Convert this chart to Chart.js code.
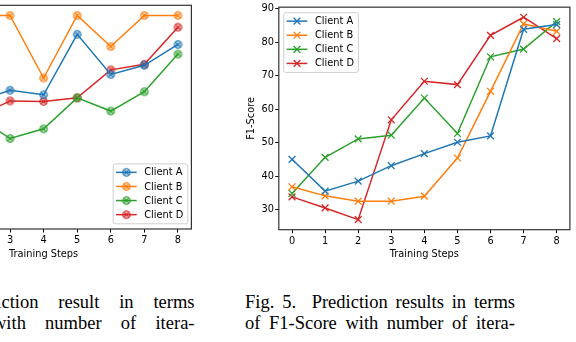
<!DOCTYPE html>
<html>
<head>
<meta charset="utf-8">
<script src="https://cdn.jsdelivr.net/npm/chart.js@4.4.0/dist/chart.umd.min.js"></script>
<style>
html, body { margin: 0; padding: 0; background: #fff; }
body { width: 576px; height: 342px; position: relative; overflow: hidden; }
canvas { position: absolute; top: 0; }
#accChart { left: -160px; }
#f1Chart { left: 240px; }
.cap { position: absolute; font-family: "Liberation Serif", "Times New Roman", serif; font-size: 18.5px; line-height: 20px; color: #000; white-space: nowrap; }
.just { width: 270px; white-space: normal; text-align: justify; text-align-last: justify; }
.rgt { right: 381.5px; text-align: right; }
</style>
</head>
<body>
<canvas id="accChart" width="360" height="270"></canvas>
<canvas id="f1Chart" width="336" height="270"></canvas>

<div class="cap rgt" style="top:292px; word-spacing:15.2px;">Fig. 4.&nbsp; Prediction result in terms</div>
<div class="cap rgt" style="top:313px; word-spacing:14.6px;">of Accuracy with number of itera-</div>
<div class="cap just" style="left:245px; top:292px;">Fig. 5.&nbsp; Prediction results in terms</div>
<div class="cap just" style="left:245px; top:313px;">of F1-Score with number of itera-</div>

<script>
var steps = [0, 1, 2, 3, 4, 5, 6, 7, 8];
var clients = ['Client A', 'Client B', 'Client C', 'Client D'];
var colors = ['#1f77b4', '#ff7f0e', '#2ca02c', '#d62728'];

var accA = [72.5, 79.0, 83.1, 85.3, 84.4, 96.3, 88.4, 90.2, 94.3];
var accB = [94.5, 97.8, 100.0, 100.0, 87.7, 100.0, 93.9, 100.0, 100.0];
var accC = [64.0, 71.6, 80.2, 75.8, 77.7, 83.8, 81.2, 85.0, 92.4];
var accD = [60.0, 68.3, 80.0, 83.2, 83.1, 83.8, 89.3, 90.4, 97.7];

// right figure (F1-Score)
var f1A = [45.1, 35.6, 38.6, 43.2, 46.8, 50.2, 52.1, 83.9, 85.3];
var f1B = [36.9, 34.2, 32.6, 32.6, 34.1, 45.5, 65.4, 85.5, 83.3];
var f1C = [34.9, 45.7, 51.2, 52.3, 63.4, 52.8, 75.7, 78.0, 86.2];
var f1D = [33.9, 30.6, 27.1, 56.9, 68.4, 67.4, 82.1, 87.5, 81.1];

var tickFont = { family: 'DejaVu Sans', size: 9.8 };

function pts(vals) {
    return vals.map(function (v, i) { return { x: steps[i], y: v }; });
}

// circle with a cross in it, like the matplotlib marker of the left plot
function circleCross(color) {
    var c = document.createElement('canvas');
    c.width = 11; c.height = 11;
    var g = c.getContext('2d');
    g.strokeStyle = color;
    g.fillStyle = color + '50';
    g.lineWidth = 1.1;
    g.beginPath(); g.arc(5.5, 5.5, 3.7, 0, Math.PI * 2); g.fill(); g.stroke();
    g.beginPath();
    g.moveTo(3.4, 3.4); g.lineTo(7.6, 7.6);
    g.moveTo(7.6, 3.4); g.lineTo(3.4, 7.6);
    g.stroke();
    return c;
}

// all four spines
var frame = {
    id: 'frame',
    afterDraw: function (chart) {
        var a = chart.chartArea, ctx = chart.ctx;
        ctx.save();
        ctx.strokeStyle = '#333';
        ctx.lineWidth = 1.2;
        ctx.strokeRect(a.left, a.top, a.right - a.left, a.bottom - a.top);
        ctx.restore();
    }
};

// matplotlib style legend box inside the plot
var boxLegend = {
    id: 'boxLegend',
    afterDraw: function (chart, args, opts) {
        var ctx = chart.ctx, area = chart.chartArea;
        var sets = chart.data.datasets;
        ctx.save();
        ctx.font = '9.8px "DejaVu Sans"';
        var tw = Math.max.apply(null, sets.map(function (d) { return ctx.measureText(d.label).width; }));
        var rowH = 14.1, pad = 3.4, handle = 20.6, gap = 7.6;
        var w = pad + handle + gap + tw + 4;
        var h = rowH * sets.length + 3.5;
        var x = opts.corner === 'br' ? area.right - opts.dx - w : area.left + opts.dx;
        var y = opts.corner === 'br' ? area.bottom - opts.dy - h : area.top + opts.dy;
        ctx.fillStyle = 'rgba(255,255,255,0.85)';
        ctx.strokeStyle = '#d0d0d0';
        ctx.lineWidth = 1;
        ctx.beginPath();
        ctx.roundRect(x + 0.5, y + 0.5, w, h, 2);
        ctx.fill();
        ctx.stroke();
        sets.forEach(function (d, i) {
            var cy = y + 1.9 + rowH * (i + 0.5);
            ctx.strokeStyle = d.borderColor;
            ctx.lineWidth = d.borderWidth;
            ctx.beginPath();
            ctx.moveTo(x + pad, cy);
            ctx.lineTo(x + pad + handle, cy);
            ctx.stroke();
            ctx.lineWidth = d.pointBorderWidth;
            Chart.helpers.drawPoint(ctx, { pointStyle: d.pointStyle, radius: d.pointRadius, rotation: 0, borderWidth: d.pointBorderWidth }, x + pad + handle / 2, cy);
            ctx.fillStyle = '#000';
            ctx.textBaseline = 'middle';
            ctx.textAlign = 'left';
            ctx.fillText(d.label, x + pad + handle + gap, cy + 0.5);
        });
        ctx.restore();
    }
};

function makeSets(series, marker) {
    return series.map(function (vals, i) {
        return {
            label: clients[i],
            data: pts(vals),
            borderColor: colors[i],
            backgroundColor: colors[i],
            borderWidth: 1.5,
            pointStyle: marker === 'x' ? 'crossRot' : circleCross(colors[i]),
            pointRadius: marker === 'x' ? 4.8 : 4,
            pointBorderWidth: 1.3,
            pointBorderColor: colors[i],
            tension: 0
        };
    });
}

function xAxis(h) {
    return {
        type: 'linear', min: -0.4, max: 8.4,
        afterFit: function (s) { s.height = h; },
        border: { display: false },
        grid: { drawOnChartArea: false, drawTicks: true, tickLength: 3.5, color: '#000', lineWidth: 1 },
        ticks: { stepSize: 1, includeBounds: false, padding: 2, color: '#000', font: tickFont, maxRotation: 0, autoSkip: false },
        title: { display: true, text: 'Training Steps', color: '#000', font: tickFont, padding: { top: 0, bottom: 10 } }
    };
}

new Chart(document.getElementById('accChart'), {
    type: 'line',
    data: { datasets: makeSets([accA, accB, accC, accD], 'o') },
    options: {
        responsive: false,
        animation: false,
        devicePixelRatio: 1,
        layout: { padding: { left: 55.8, right: 8.6, top: 1, bottom: 0 } },
        plugins: {
            legend: { display: false },
            tooltip: { enabled: false },
            boxLegend: { corner: 'br', dx: 4.1, dy: 5.7 }
        },
        scales: {
            x: xAxis(41),
            y: { display: false, min: 58, max: 102 }
        }
    },
    plugins: [frame, boxLegend]
});

new Chart(document.getElementById('f1Chart'), {
    type: 'line',
    data: { datasets: makeSets([f1A, f1B, f1C, f1D], 'x') },
    options: {
        responsive: false,
        animation: false,
        devicePixelRatio: 1,
        layout: { padding: { left: 0, right: 0.8, top: 3.3, bottom: 0 } },
        plugins: {
            legend: { display: false },
            tooltip: { enabled: false },
            boxLegend: { corner: 'tl', dx: 4.5, dy: 5 }
        },
        scales: {
            x: xAxis(40.3),
            y: {
                min: 24.1, max: 90.5,
                afterFit: function (s) { s.width = 38.8; },
                border: { display: false },
                grid: { drawOnChartArea: false, drawTicks: true, tickLength: 3.5, color: '#000', lineWidth: 1 },
                ticks: { stepSize: 10, includeBounds: false, padding: 1.3, color: '#000', font: tickFont },
                title: { display: true, text: 'F1-Score', color: '#000', font: tickFont, padding: { top: 5.1, bottom: 0 } }
            }
        }
    },
    plugins: [frame, boxLegend]
});
</script>
</body>
</html>
